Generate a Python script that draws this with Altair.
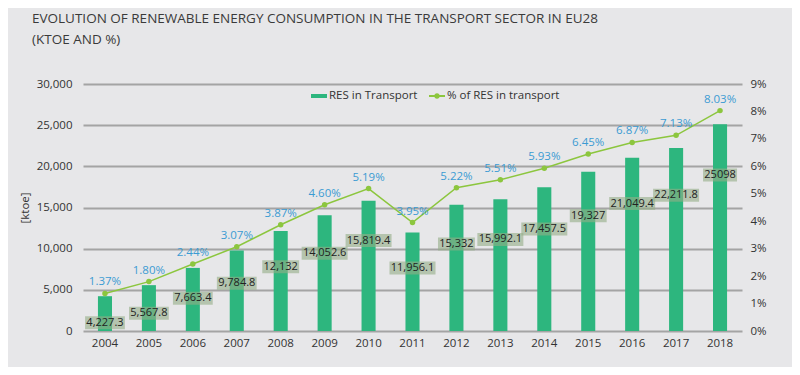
import altair as alt
import pandas as pd

years = [str(y) for y in range(2004, 2019)]
res_values = [4227.3, 5567.8, 7663.4, 9784.8, 12132, 14052.6, 15819.4, 11956.1,
              15332, 15992.1, 17457.5, 19327, 21049.4, 22211.8, 25098]
res_labels = ["4,227.3", "5,567.8", "7,663.4", "9,784.8", "12,132", "14,052.6",
              "15,819.4", "11,956.1", "15,332", "15,992.1", "17,457.5", "19,327",
              "21,049.4", "22,211.8", "25098"]
pct_values = [1.37, 1.80, 2.44, 3.07, 3.87, 4.60, 5.19, 3.95, 5.22, 5.51, 5.93,
              6.45, 6.87, 7.13, 8.03]
series_names = ["RES in Transport", "% of RES in transport"]
title_lines = ["EVOLUTION OF RENEWABLE ENERGY CONSUMPTION IN THE TRANSPORT SECTOR IN EU28",
               "(KTOE AND %)"]

F = "Open Sans"
BAR = "#2db67e"
LINE = "#8cc63e"
PCT_TXT = "#3b9bd3"
TXT = "#333333"


def text_w(s):
    return sum(6.2 if c.isdigit() else 2.9 for c in s) + 3


df = pd.DataFrame({
    "year": years,
    "res": res_values,
    "res_label": res_labels,
    "pct": pct_values,
    "pct_label": [f"{p:.2f}%" for p in pct_values],
    "bar_series": series_names[0],
    "line_series": series_names[1],
    "box_w": [text_w(s) for s in res_labels],
})

x = alt.X("year:O", title=None,
          scale=alt.Scale(paddingInner=0.68, paddingOuter=0.34),
          axis=alt.Axis(labelAngle=0, ticks=False, domain=False, labelPadding=6,
                        labelFont=F, labelFontSize=11.5, labelColor=TXT))

yl_scale = alt.Scale(domain=[0, 30000])
yr_scale = alt.Scale(domain=[0, 9])
yl_axis = alt.Axis(values=[0, 5000, 10000, 15000, 20000, 25000, 30000],
                   format=",d", grid=True, gridColor="#a4a4a4", gridWidth=2,
                   ticks=False, domain=False, labelPadding=11,
                   labelFont=F, labelFontSize=11.5, labelColor=TXT,
                   title="[ktoe]", titleFont=F, titleFontSize=11.5,
                   titleFontWeight="normal", titleColor=TXT, titlePadding=6)

base = alt.Chart(df).encode(x=x)

bars = base.mark_bar(color=BAR).encode(
    y=alt.Y("res:Q", scale=yl_scale, axis=yl_axis),
    color=alt.Color("bar_series:N",
                    scale=alt.Scale(domain=[series_names[0]], range=[BAR]),
                    legend=alt.Legend(title=None, orient="none", legendX=228, legendY=4,
                                      symbolType="M-1,-0.25H1V0.25H-1Z", symbolSize=256,
                                      symbolStrokeWidth=0, labelOffset=2, padding=0,
                                      labelFont=F, labelFontSize=11.5, labelColor=TXT)),
)

lab = base.transform_calculate(label_y="max(0.86 * datum.res - 2627, 900)")

boxes = lab.mark_tick(thickness=13, color="#94ad87", opacity=0.6).encode(
    y=alt.Y("label_y:Q", scale=yl_scale, axis=yl_axis),
    size=alt.Size("box_w:Q", scale=None),
)

box_text = lab.mark_text(font=F, fontSize=11, color="#222222", baseline="middle").encode(
    y=alt.Y("label_y:Q", scale=yl_scale, axis=yl_axis),
    text="res_label:N",
)

left = alt.layer(bars, boxes, box_text)

yr = alt.Y("pct:Q", scale=yr_scale,
           axis=alt.Axis(orient="right", values=list(range(10)),
                         labelExpr="datum.value + '%'", grid=False, ticks=False,
                         domain=False, labelPadding=8, title=None,
                         labelFont=F, labelFontSize=11.5, labelColor=TXT))

line = base.mark_line(color=LINE, strokeWidth=1.5).encode(y=yr)
points = base.mark_circle(size=30, opacity=1).encode(
    y=yr,
    color=alt.Color("line_series:N",
                    scale=alt.Scale(domain=[series_names[1]], range=[LINE]),
                    legend=alt.Legend(title=None, orient="none", legendX=346, legendY=4,
                                      symbolType="M-1,-0.12H1V0.12H-1Z M-0.35,0A0.35,0.35 0 1,1 0.35,0A0.35,0.35 0 1,1 -0.35,0Z",
                                      symbolSize=256, symbolStrokeWidth=0,
                                      labelOffset=2, padding=0,
                                      labelFont=F, labelFontSize=11.5, labelColor=TXT)),
)
pct_text = base.mark_text(font=F, fontSize=11.5, color=PCT_TXT, dy=-11,
                          baseline="middle").encode(y=yr, text="pct_label:N")

right = alt.layer(line, points, pct_text)

chart = alt.layer(left, right).resolve_scale(
    y="independent", color="independent"
).resolve_legend(color="independent").properties(
    width=659, height=247,
    background="#e7e7e9",
    autosize=alt.AutoSizeParams(type="none"),
    padding={"left": 75, "top": 76, "right": 50, "bottom": 36},
    title=alt.TitleParams(text=title_lines, anchor="start", frame="group", dx=-51,
                          offset=32, font=F, fontSize=13.5,
                          fontWeight="normal", color="#3a3a3a", lineHeight=21),
).configure_view(stroke=None)

chart.save("out.html", embed_options={"renderer": "svg", "actions": False})
